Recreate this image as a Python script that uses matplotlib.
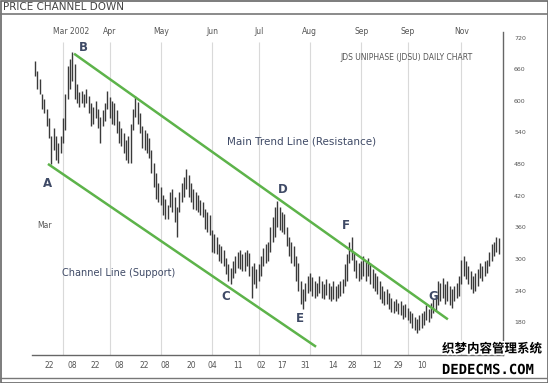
#!/usr/bin/env python3

import matplotlib
matplotlib.use("Agg")
import matplotlib.pyplot as plt
import matplotlib.patheffects as pe
from matplotlib.patches import Rectangle
from matplotlib.lines import Line2D

# JDSU daily bars, index = trading day from 12 Feb 2002
highs = [
    675, 656, 641, 613, 604, 585, 567, 533, 548, 533, 520, 533, 567, 613, 666, 679, 692, 670, 632, 617,
    619, 613, 623, 610, 595, 589, 600, 585, 570, 582, 595, 619, 608, 600, 595, 582, 561, 548, 539, 526,
    533, 557, 585, 610, 598, 576, 552, 544, 539, 529, 507, 483, 464, 445, 436, 421, 413, 402, 427, 432,
    417, 399, 427, 445, 455, 470, 460, 445, 432, 427, 421, 412, 408, 395, 389, 384, 355, 348, 342, 328,
    324, 318, 301, 290, 283, 296, 305, 314, 318, 309, 314, 318, 311, 286, 292, 281, 290, 305, 320, 328,
    333, 361, 380, 399, 410, 399, 389, 386, 361, 342, 333, 324, 305, 292, 258, 243, 254, 268, 273, 266,
    258, 254, 268, 258, 253, 262, 254, 249, 258, 249, 253, 258, 262, 290, 309, 333, 342, 314, 299, 292,
    296, 305, 296, 301, 292, 281, 273, 268, 258, 249, 240, 243, 236, 227, 221, 225, 217, 221, 212, 215,
    208, 202, 197, 191, 187, 193, 197, 202, 212, 206, 217, 225, 230, 258, 254, 264, 253, 258, 249, 243,
    249, 254, 268, 299, 305, 296, 286, 277, 268, 273, 281, 292, 286, 296, 299, 314, 328, 333, 342, 339,
]
lows = [
    647, 623, 613, 585, 576, 552, 529, 480, 507, 488, 483, 501, 520, 544, 604, 623, 638, 604, 595, 589,
    595, 589, 595, 576, 552, 557, 567, 548, 520, 552, 561, 585, 567, 557, 554, 539, 520, 514, 501, 488,
    483, 483, 544, 570, 557, 539, 511, 507, 501, 492, 464, 436, 413, 408, 402, 384, 376, 376, 399, 389,
    370, 342, 389, 408, 417, 432, 417, 408, 395, 393, 389, 384, 380, 357, 352, 346, 314, 311, 309, 296,
    292, 286, 271, 258, 253, 264, 273, 283, 281, 277, 277, 286, 268, 227, 253, 245, 258, 268, 286, 292,
    296, 314, 333, 342, 361, 355, 352, 348, 324, 305, 292, 286, 258, 240, 215, 206, 221, 236, 240, 230,
    227, 230, 236, 227, 225, 232, 225, 221, 225, 221, 227, 230, 236, 249, 258, 292, 299, 277, 264, 258,
    262, 268, 258, 268, 253, 245, 240, 234, 225, 217, 212, 215, 206, 199, 197, 201, 195, 193, 187, 191,
    184, 178, 170, 165, 159, 165, 169, 174, 184, 180, 189, 197, 202, 212, 221, 227, 215, 221, 212, 208,
    221, 227, 230, 253, 268, 262, 253, 243, 236, 240, 249, 264, 258, 268, 273, 286, 296, 305, 314, 309,
]

# channel lines (start day, start price, end day, end price)
resistance = [17.2, 688, 176.8, 187]
support = [6.0, 479, 120.2, 135]

month_days = [12, 32, 54, 76, 96, 118, 140, 160, 183]
month_labels = ["Mar 2002", "Apr", "May", "Jun", "Jul", "Aug", "Sep", "Sep", "Nov"]
day_ticks = [6, 16, 26, 36, 47, 56, 67, 76, 87, 97, 106, 116, 128, 136, 147, 156, 166]
day_labels = ["22", "08", "22", "08", "22", "08", "20", "04", "11", "02",
              "17", "31", "14", "28", "12", "29", "10"]
price_ticks = [180, 240, 300, 360, 420, 480, 540, 600, 660, 720]

points = ["A", "B", "C", "D", "E", "F", "G"]
point_days = [5.2, 20.6, 82, 106.4, 113.7, 133.5, 170.8]
point_prices = [443, 701, 228, 432, 187, 363, 228]

W, H = 548, 383
fig = plt.figure(figsize=(W / 100, H / 100), dpi=100)
ax = fig.add_axes([32 / W, 1 - 355 / H, 471 / W, 328 / H])

label_col = "#3f4a66"
grey = "#555555"

# month grid
ax.vlines(month_days, 118, 712, color="#d9d9d9", lw=0.8, zorder=0)

days = list(range(len(highs)))
ax.vlines(days, lows, highs, color="#3a3a3a", lw=1.0, zorder=2)

ax.plot(resistance[0::2], resistance[1::2], color="#5db34a", lw=1.8, zorder=3)
ax.plot(support[0::2], support[1::2], color="#5db34a", lw=1.8, zorder=3)

for p, d, v in zip(points, point_days, point_prices):
    ax.text(d, v, p, ha="center", va="center", fontsize=8.5, color=label_col,
            fontweight="bold")

ax.text(114.6, 522, "Main Trend Line (Resistance)", ha="center", va="center",
        fontsize=7.5, color=label_col)
ax.text(11.6, 273, "Channel Line (Support)", ha="left", va="center",
        fontsize=7, color=label_col)
ax.text(0.9, 363, "Mar", ha="left", va="center", fontsize=5.5, color=grey)

for d, lab in zip(month_days, month_labels):
    xd = 15.5 if lab == "Mar 2002" else d
    ax.text(xd, 731, lab, ha="center", va="center", fontsize=5.5, color=grey)

ax.set_xlim(-1.3, 200.9)
ax.set_ylim(118, 740)

ax.set_xticks(day_ticks)
ax.set_xticklabels(day_labels)
ax.yaxis.tick_right()
ax.set_yticks(price_ticks)
ax.set_yticklabels([str(v) for v in price_ticks])
ax.tick_params(axis="x", length=0, pad=4, labelsize=5.5, labelcolor=grey)
ax.tick_params(axis="y", length=0, pad=8, labelsize=4.5, labelcolor=grey)

for s in ["top", "left"]:
    ax.spines[s].set_visible(False)
ax.spines["bottom"].set_color("#666666")
ax.spines["right"].set_color("#666666")
ax.spines["bottom"].set_linewidth(1.0)
ax.spines["right"].set_linewidth(1.0)
ax.spines["right"].set_bounds(118, 731)

fig.text(340 / W, 1 - 58 / H, "JDS UNIPHASE (JDSU) DAILY CHART", ha="left",
         va="center", fontsize=5.5, color=grey)

# title strip and frame
fig.text(3 / W, 1 - 7 / H, "PRICE CHANNEL DOWN", ha="left", va="center",
         fontsize=7.5, color="#444444")
fig.add_artist(Line2D([0, 1], [1 - 14 / H, 1 - 14 / H], color="#777777", lw=1.2))
fig.add_artist(Rectangle((0.5 / W, 0.5 / H), 1 - 1 / W, 1 - 1 / H, fill=False,
                         edgecolor="#666666", lw=1.2, transform=fig.transFigure))
fig.add_artist(Line2D([0, 1], [1 - 378 / H, 1 - 378 / H], color="#777777", lw=1.0))

# site watermark
halo = [pe.withStroke(linewidth=2.5, foreground="white")]
fig.text(492 / W, 1 - 349 / H, "织梦内容管理系统", ha="center", va="center",
         fontsize=9, fontweight="bold", color="black",
         family=["Noto Sans CJK SC", "DejaVu Sans"], path_effects=halo)
fig.text(488 / W, 1 - 370 / H, "DEDECMS.COM", ha="center", va="center",
         fontsize=10, fontweight="bold", color="black", family="DejaVu Sans Mono",
         path_effects=halo)

fig.savefig("out.png", dpi=100)
